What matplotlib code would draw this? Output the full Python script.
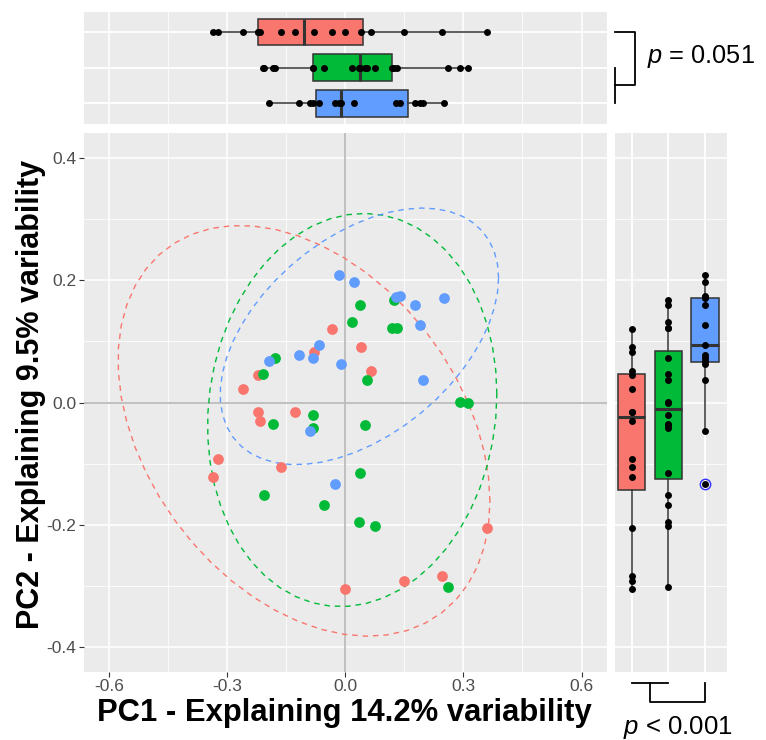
import numpy as np
import matplotlib
matplotlib.use("Agg")
import matplotlib.pyplot as plt
import matplotlib.transforms as mtransforms

plt.rcParams['font.family'] = ['Liberation Sans', 'DejaVu Sans']
plt.rcParams['mathtext.fontset'] = 'custom'
plt.rcParams['mathtext.it'] = 'Liberation Sans:italic'
plt.rcParams['mathtext.rm'] = 'Liberation Sans'

# data (PC scores per group)
pc1_red = [-0.035, -0.080, 0.039, -0.221, 0.064, -0.259, -0.221, -0.217,
           -0.129, -0.324, -0.336, -0.164, 0.361, 0.148, 0.245, -0.002]
pc2_red = [0.120, 0.083, 0.091, 0.045, 0.051, 0.022, -0.016, -0.030,
           -0.015, -0.092, -0.122, -0.106, -0.205, -0.292, -0.284, -0.305]
pc1_green = [0.036, 0.018, 0.124, 0.118, 0.131, -0.180, -0.208, 0.054, 0.291, 0.312,
             -0.082, -0.184, 0.051, -0.082, 0.038, -0.207, -0.053, 0.035, 0.075, 0.261]
pc2_green = [0.159, 0.132, 0.168, 0.122, 0.122, 0.072, 0.047, 0.036, 0.001, 0.000,
             -0.020, -0.035, -0.036, -0.042, -0.116, -0.152, -0.167, -0.196, -0.202, -0.301]
pc1_blue = [-0.015, 0.021, 0.128, 0.139, 0.178, 0.250, 0.190, -0.066,
            -0.118, -0.081, -0.195, -0.010, 0.198, -0.090, -0.026]
pc2_blue = [0.208, 0.197, 0.172, 0.174, 0.159, 0.170, 0.126, 0.094,
            0.078, 0.072, 0.068, 0.063, 0.037, -0.047, -0.133]

colors = ['#F8766D', '#00BA38', '#619CFF']
pc1 = [pc1_red, pc1_green, pc1_blue]
pc2 = [pc2_red, pc2_green, pc2_blue]

xlabel = 'PC1 - Explaining 14.2% variability'
ylabel = 'PC2 - Explaining 9.5% variability'
p_top = '$p$ = 0.051'
p_right = '$p$ < 0.001'

bg = '#EBEBEB'
boxline = '#333333'


def cov_trob(x, nu=5, maxit=25, tol=0.01):
    # robust t covariance, like MASS::cov.trob (used by stat_ellipse)
    n, p = x.shape
    wt = np.ones(n)
    loc = x.mean(0)
    w = np.sqrt(wt)
    for it in range(maxit):
        w0 = w
        X = x - loc
        U, d, Vt = np.linalg.svd(np.sqrt(w / w.sum())[:, None] * X, full_matrices=False)
        wX = X @ Vt.T @ np.diag(1 / d)
        Q = (wX ** 2).sum(1)
        w = wt * (nu + p) / (nu + Q)
        loc = (w[:, None] * x).sum(0) / w.sum()
        if np.all(np.abs(w - w0) < tol):
            break
    cov = (np.sqrt(w)[:, None] * X).T @ (np.sqrt(w)[:, None] * X) / wt.sum()
    return loc, cov


def ellipse(xs, ys, level=0.95, segments=51):
    pts = np.column_stack([xs, ys])
    n = len(pts)
    center, shape = cov_trob(pts)
    d2 = n - 1
    qf = d2 / 2 * ((1 - level) ** (-2 / d2) - 1)
    radius = np.sqrt(2 * qf)
    ang = np.arange(segments + 1) * 2 * np.pi / segments
    circ = np.column_stack([np.cos(ang), np.sin(ang)])
    L = np.linalg.cholesky(shape)
    e = center + radius * circ @ L.T
    return e[:, 0], e[:, 1]


def gg_style(ax):
    ax.set_facecolor(bg)
    for s in ax.spines.values():
        s.set_visible(False)
    ax.grid(True, which='major', color='white', lw=1.1)
    ax.grid(True, which='minor', color='white', lw=0.55)
    ax.set_axisbelow(True)
    ax.tick_params(which='both', length=0, labelbottom=False, labelleft=False)


W, H = 766, 740
fig = plt.figure(figsize=(W / 100, H / 100), dpi=100)


def px_axes(l, t, r, b):
    return fig.add_axes([l / W, 1 - b / H, (r - l) / W, (b - t) / H])


ax = px_axes(84, 133.3, 606.7, 671.7)
ax_top = px_axes(84, 11.7, 606.7, 124)
ax_right = px_axes(615, 133.3, 726.7, 671.7)

# main scatter
gg_style(ax)
ax.set_xlim(-0.664, 0.664)
ax.set_ylim(-0.44, 0.44)
ax.set_xticks([-0.6, -0.3, 0.0, 0.3, 0.6])
ax.set_xticks([-0.45, -0.15, 0.15, 0.45], minor=True)
ax.set_yticks([-0.4, -0.2, 0.0, 0.2, 0.4])
ax.set_yticks([-0.3, -0.1, 0.1, 0.3], minor=True)
ax.set_xticklabels(['-0.6', '-0.3', '0.0', '0.3', '0.6'])
ax.set_yticklabels(['-0.4', '-0.2', '0.0', '0.2', '0.4'])
ax.tick_params(which='major', length=3.5, width=0.8, color=boxline,
               labelbottom=True, labelleft=True, labelsize=12.5,
               labelcolor='#4D4D4D', pad=2)
ax.axvline(0, color='#BBBBBB', lw=1.3, zorder=1)
ax.axhline(0, color='#BBBBBB', lw=1.3, zorder=1)
for xs, ys, c in zip(pc1, pc2, colors):
    ex, ey = ellipse(xs, ys)
    ax.plot(ex, ey, color=c, lw=1.0, ls=(0, (4, 3.5)), zorder=2)
for xs, ys, c in zip(pc1, pc2, colors):
    ax.scatter(xs, ys, s=60, color=c, linewidths=0, zorder=3)

fig.text(344 / W, 1 - 713 / H, xlabel, ha='center', va='center',
         fontsize=22.3, fontweight='bold')
fig.text(31 / W, 1 - 394 / H, ylabel, ha='center', va='center',
         rotation=90, fontsize=22, fontweight='bold')

box_kw = dict(widths=0.75, patch_artist=True, showcaps=False,
              medianprops=dict(color=boxline, lw=2.2),
              whiskerprops=dict(color=boxline, lw=1.1),
              boxprops=dict(edgecolor=boxline, lw=1.1),
              flierprops=dict(marker='o', mfc='none', mec='#3333FF', ms=7.5, mew=1.0))

# top boxplot (PC1)
gg_style(ax_top)
ax_top.set_xlim(-0.664, 0.664)
ax_top.set_ylim(3.58, 0.43)
ax_top.set_xticks([-0.6, -0.3, 0.0, 0.3, 0.6])
ax_top.set_xticks([-0.45, -0.15, 0.15, 0.45], minor=True)
ax_top.set_yticks([1, 2, 3])
bp = ax_top.boxplot(pc1, positions=[1, 2, 3], orientation='horizontal', **box_kw)
for patch, c in zip(bp['boxes'], colors):
    patch.set_facecolor(c)
for i, xs in enumerate(pc1):
    ax_top.scatter(xs, [i + 1] * len(xs), s=25, color='black', linewidths=0, zorder=4)

# right boxplot (PC2)
gg_style(ax_right)
ax_right.set_ylim(-0.44, 0.44)
ax_right.set_xlim(0.545, 3.59)
ax_right.set_yticks([-0.4, -0.2, 0.0, 0.2, 0.4])
ax_right.set_yticks([-0.3, -0.1, 0.1, 0.3], minor=True)
ax_right.set_xticks([1, 2, 3])
bp = ax_right.boxplot(pc2, positions=[1, 2, 3], **box_kw)
for patch, c in zip(bp['boxes'], colors):
    patch.set_facecolor(c)
for i, ys in enumerate(pc2):
    ax_right.scatter([i + 1] * len(ys), ys, s=25, color='black', linewidths=0, zorder=4)

# significance brackets
tr = mtransforms.blended_transform_factory(ax_top.transAxes, ax_top.transData)
x1, x2 = 1.016, 1.054
ax_top.plot([x1, x2, x2, x1], [1, 1, 2.5, 2.5], color='black', lw=1.3,
            transform=tr, clip_on=False)
ax_top.plot([x1, x1], [2, 3], color='black', lw=1.3, transform=tr, clip_on=False)
ax_top.text(1.077, 1.7, p_top, transform=tr, ha='left', va='center', fontsize=18.3)

tr = mtransforms.blended_transform_factory(ax_right.transData, ax_right.transAxes)
y1, y2 = -0.0215, -0.0557
ax_right.plot([1, 2], [y1, y1], color='black', lw=1.3, transform=tr, clip_on=False)
ax_right.plot([1.5, 1.5, 3, 3], [y1, y2, y2, y1], color='black', lw=1.3,
              transform=tr, clip_on=False)
ax_right.text(2.25, -0.103, p_right, transform=tr, ha='center', va='center', fontsize=18.5)

fig.savefig('out.png', dpi=100)
